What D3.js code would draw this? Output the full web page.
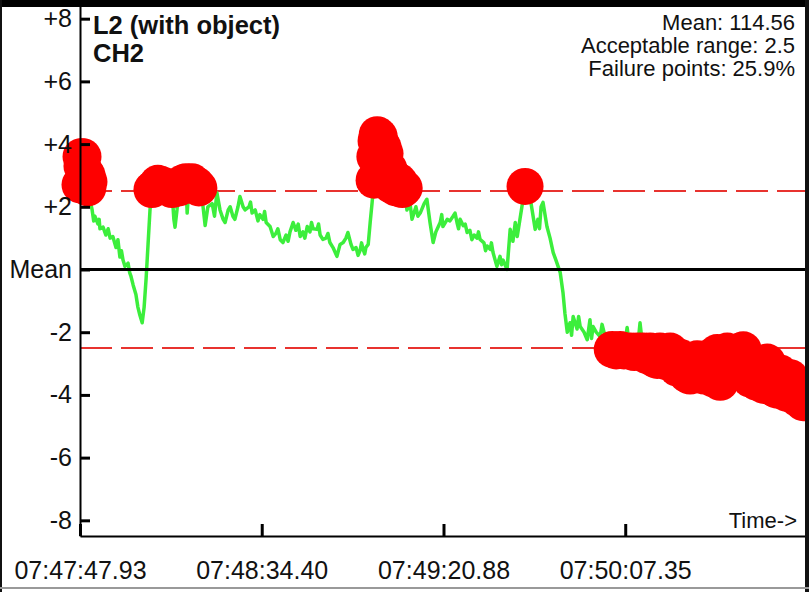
<!DOCTYPE html>
<html>
<head>
<meta charset="utf-8">
<script src="https://cdn.jsdelivr.net/npm/d3@7"></script>
<style>
  html, body { margin: 0; padding: 0; background: #fff; }
  svg { display: block; font-family: "Liberation Sans", Arial, sans-serif; }
</style>
</head>
<body>
<div id="chart"></div>
<script>
// [seconds after 07:47:47.93, deviation from mean]
const readings = [
  [0, 2.7], [0.26, 3.6], [0.5, 3.3], [0.77, 3.6], [1.0, 2.9], [1.28, 3.1], [1.5, 2.7], [1.8, 3.0], [2.0, 2.6], [2.3, 2.8], [2.6, 2.2],
  [3.1, 1.9], [3.5, 1.55], [3.8, 1.7], [4.6, 1.45], [4.9, 1.6], [5.1, 1.3], [5.9, 1.35], [6.6, 1.1], [7.2, 1.3], [7.7, 1.0],
  [8.4, 1.05], [9.2, 0.7], [9.7, 0.95], [10.2, 0.4], [10.6, 0.6], [11.0, 0.3], [11.5, 0.1], [12.3, 0.2], [12.7, -0.1], [13.0, -0.2],
  [13.6, -0.5], [14.3, -0.8], [14.8, -1.2], [15.3, -1.45], [15.9, -1.7], [16.4, -1.2], [16.9, -0.3], [17.4, 0.8], [17.9, 1.9],
  [18.4, 2.55], [18.9, 2.6], [19.9, 2.75], [21.0, 2.7], [22.0, 2.65], [23.0, 2.6], [23.5, 2.55], [24.0, 1.6], [24.3, 1.35],
  [24.8, 1.9], [25.3, 2.6], [26.1, 2.75], [27.1, 2.8], [27.4, 1.8], [27.9, 2.7], [28.6, 2.8], [29.7, 2.7], [30.4, 2.6],
  [31.2, 2.3], [32.0, 1.4], [32.7, 2.0], [33.8, 2.1], [34.4, 1.7], [35.0, 2.45], [35.8, 1.9], [36.6, 1.6], [37.1, 1.5],
  [37.9, 1.9], [38.4, 2.0], [39.1, 1.7], [39.6, 1.6], [40.4, 2.0], [40.9, 2.33], [41.7, 2.0], [42.2, 1.9], [43.2, 2.0],
  [43.6, 2.15], [44.0, 1.8], [44.8, 1.9], [45.5, 1.55], [46.0, 1.75], [46.8, 1.6], [47.2, 1.85], [47.6, 1.5], [48.6, 1.37],
  [49.4, 1.05], [50.1, 1.15], [50.6, 1.3], [51.2, 0.95], [51.9, 0.86], [52.7, 1.1], [53.2, 0.9], [53.7, 1.2], [54.5, 1.5],
  [55.2, 1.25], [55.8, 1.45], [56.3, 1.05], [57.0, 1.2], [57.5, 1.0], [58.1, 1.37], [58.8, 1.2], [59.2, 1.5], [59.6, 1.3],
  [60.6, 1.28], [61.0, 1.45], [61.4, 1.1], [62.1, 0.96], [62.9, 1.0], [63.4, 1.15], [63.9, 0.86], [64.7, 0.7], [65.7, 0.42],
  [66.5, 0.8], [67.3, 0.86], [68.0, 1.0], [68.5, 1.18], [69.3, 0.8], [69.8, 0.64], [70.6, 0.7], [71.1, 0.45], [71.6, 0.6],
  [72.0, 0.85], [72.4, 0.64], [72.8, 0.5], [73.1, 0.7], [73.7, 0.8], [74.2, 1.5], [74.7, 2.14],
  [75.2, 2.85], [75.4, 3.6], [75.7, 4.1], [76.0, 4.3], [76.2, 3.7], [76.5, 4.25], [76.7, 3.2], [77.0, 4.0], [77.2, 3.5],
  [77.5, 3.9], [77.7, 3.1], [78.0, 3.7], [78.5, 2.9], [79.0, 3.2], [79.5, 2.7], [80.1, 2.95], [80.8, 2.6], [81.6, 2.8],
  [82.4, 2.55], [82.9, 2.6], [83.6, 1.9], [84.4, 2.1], [84.9, 1.6], [85.4, 1.8], [85.9, 2.0], [86.4, 1.7], [87.0, 1.8],
  [88.0, 2.1], [88.7, 2.24], [89.5, 1.5], [90.3, 0.86], [91.0, 1.2], [92.1, 1.5], [92.5, 1.75], [92.8, 1.37], [93.9, 1.6],
  [94.6, 1.55], [95.4, 1.7], [95.9, 1.8], [96.4, 1.5], [96.8, 1.3], [97.2, 1.6], [98.0, 1.4], [98.5, 1.45], [99.0, 1.18],
  [99.7, 1.25], [100.2, 0.95], [100.8, 1.1], [101.5, 1.0], [101.9, 1.2], [102.3, 0.96], [103.3, 0.85], [103.7, 0.6],
  [104.1, 0.75], [104.9, 0.64], [105.2, 0.85], [105.6, 0.55], [106.6, 0.1], [107.4, 0.42], [107.8, 0.15], [108.2, 0.3],
  [109.2, 0.0], [110.0, 1.28], [110.7, 0.9], [111.3, 1.5], [111.8, 1.05], [112.5, 1.6], [113.0, 2.0], [113.8, 2.65],
  [114.6, 2.2], [115.3, 2.14], [116.4, 1.28], [117.1, 1.6], [117.5, 1.3], [117.9, 2.0], [118.4, 2.14], [119.4, 1.37],
  [120.2, 1.0], [121.0, 0.54], [121.7, 0.3], [122.8, -0.1], [123.5, -0.73], [124.0, -1.4], [124.6, -2.0], [125.3, -1.7],
  [125.7, -2.1], [126.1, -1.5], [127.1, -1.9], [127.5, -1.5], [127.9, -1.82], [128.9, -2.0], [129.7, -2.24], [130.4, -1.6],
  [130.8, -2.2], [131.2, -1.82], [132.0, -2.0], [133.0, -2.14], [133.5, -1.75], [134.0, -2.0], [135.0, -2.3],
  [136.1, -2.55], [137.1, -2.6], [138.1, -2.55], [139.1, -2.6], [139.9, -1.85], [140.7, -2.6], [141.7, -2.65], [142.5, -2.6],
  [143.2, -1.7], [144.0, -2.6], [145.0, -2.75], [145.8, -2.6], [146.8, -2.85], [147.6, -2.9], [148.3, -2.6], [149.4, -2.7],
  [150.1, -2.95], [150.9, -2.6], [151.9, -3.0], [152.7, -3.15], [153.5, -2.8], [154.5, -3.2], [155.2, -3.35], [156.0, -3.4],
  [157.0, -2.9], [157.8, -2.85], [158.6, -3.1], [159.6, -3.4], [160.4, -3.2], [161.1, -2.8], [162.1, -3.5], [162.9, -2.65],
  [163.7, -3.6], [164.7, -3.3], [165.5, -2.6], [166.2, -3.0], [167.0, -3.2], [168.0, -2.7], [168.8, -2.6], [169.6, -2.56],
  [170.6, -3.2], [171.4, -3.5], [172.4, -3.0], [173.1, -3.6], [173.9, -3.1], [174.9, -3.7], [175.7, -2.95], [176.5, -3.5],
  [177.5, -3.8], [178.3, -3.85], [179.0, -3.3], [180.1, -3.6], [180.8, -3.95], [181.6, -3.45], [182.6, -4.0], [183.4, -4.1],
  [184.1, -3.7], [184.9, -4.25], [185.7, -4.2]
];

const yTicks = [-8, -6, -4, -2, 0, 2, 4, 6, 8];
const timeTickOffsets = [0, 46.47, 92.95, 139.42];
const timeTickLabels = ['07:47:47.93', '07:48:34.40', '07:49:20.88', '07:50:07.35'];
const totalSeconds = 185.9;
const acceptableRange = 2.5;
const titleLines = ['L2 (with object)', 'CH2'];
const infoLines = ['Mean: 114.56', 'Acceptable range: 2.5', 'Failure points: 25.9%'];

const width = 809, height = 592;
const plotLeft = 80, plotRight = 807, plotTop = 3, plotBottom = 536;

const data = readings.map(([t, v]) => ({ t, v }));

const svg = d3.select('#chart').append('svg')
    .attr('width', width)
    .attr('height', height);

const x = d3.scaleLinear().domain([0, totalSeconds]).range([plotLeft, plotRight]);
const y = d3.scaleLinear().domain([-8.5, 8.5]).range([plotBottom, plotTop]);

svg.append('defs').append('clipPath')
    .attr('id', 'plot-clip')
  .append('rect')
    .attr('x', 0).attr('y', 8)
    .attr('width', 805).attr('height', plotBottom - 8);

// acceptable range limits
svg.append('g')
  .selectAll('line')
  .data([acceptableRange, -acceptableRange])
  .join('line')
    .attr('x1', plotLeft).attr('x2', 805)
    .attr('y1', d => y(d)).attr('y2', d => y(d))
    .attr('stroke', '#e8332f')
    .attr('stroke-width', 2)
    .attr('stroke-dasharray', '32,9');

const line = d3.line()
    .x(d => x(d.t))
    .y(d => y(d.v));

svg.append('path')
    .datum(data)
    .attr('clip-path', 'url(#plot-clip)')
    .attr('fill', 'none')
    .attr('stroke', '#3cee3c')
    .attr('stroke-width', 3.5)
    .attr('stroke-linejoin', 'round')
    .attr('d', line);

// mean line
svg.append('line')
    .attr('x1', plotLeft).attr('x2', 805)
    .attr('y1', y(0)).attr('y2', y(0))
    .attr('stroke', '#000')
    .attr('stroke-width', 3);

// failure points
svg.append('g')
    .attr('clip-path', 'url(#plot-clip)')
  .selectAll('circle')
  .data(data.filter(d => Math.abs(d.v) > acceptableRange))
  .join('circle')
    .attr('cx', d => x(d.t))
    .attr('cy', d => y(d.v))
    .attr('r', 18.5)
    .attr('fill', '#fe0000');

// axes
const yAxis = d3.axisLeft(y)
    .tickValues(yTicks)
    .tickSize(-10)
    .tickSizeOuter(0)
    .tickPadding(8)
    .tickFormat(d => d === 0 ? 'Mean' : (d > 0 ? '+' + d : String(d)));

svg.append('g')
    .attr('transform', `translate(${plotLeft},0)`)
    .call(yAxis)
    .call(g => g.select('.domain').attr('stroke-width', 2))
    .call(g => g.selectAll('.tick line').attr('stroke-width', 3))
    .call(g => g.selectAll('.tick text')
        .attr('font-size', 25)
        .attr('fill', '#111')
        .attr('font-family', '"Liberation Sans", Arial, sans-serif'));

const xAxis = d3.axisBottom(x)
    .tickValues(timeTickOffsets)
    .tickSize(-12)
    .tickSizeOuter(0)
    .tickPadding(25)
    .tickFormat((d, i) => timeTickLabels[i]);

svg.append('g')
    .attr('transform', `translate(0,${plotBottom})`)
    .call(xAxis)
    .call(g => g.select('.domain').attr('stroke-width', 2))
    .call(g => g.selectAll('.tick line').attr('stroke-width', 3))
    .call(g => g.selectAll('.tick text')
        .attr('font-size', 25)
        .attr('fill', '#111')
        .attr('font-family', '"Liberation Sans", Arial, sans-serif'));

svg.append('text')
    .attr('x', 797).attr('y', 528)
    .attr('text-anchor', 'end')
    .attr('font-size', 22)
    .attr('fill', '#111')
    .text('Time->');

// title
svg.append('g')
  .selectAll('text')
  .data(titleLines)
  .join('text')
    .attr('x', 93)
    .attr('y', (d, i) => 34 + i * 28)
    .attr('font-size', 25.5)
    .attr('font-weight', 'bold')
    .attr('fill', '#111')
    .text(d => d);

svg.append('g')
  .selectAll('text')
  .data(infoLines)
  .join('text')
    .attr('x', 795)
    .attr('y', (d, i) => 30 + i * 23)
    .attr('text-anchor', 'end')
    .attr('font-size', 22)
    .attr('fill', '#111')
    .text(d => d);

// window frame
svg.append('rect').attr('x', 0).attr('y', 0).attr('width', width).attr('height', 7).attr('fill', '#000');
svg.append('rect').attr('x', 0).attr('y', 0).attr('width', 2).attr('height', height).attr('fill', '#111');
svg.append('rect').attr('x', 805).attr('y', 0).attr('width', 4).attr('height', height).attr('fill', '#111');
svg.append('rect').attr('x', 0).attr('y', 587).attr('width', width).attr('height', 2).attr('fill', '#999');
</script>
</body>
</html>
